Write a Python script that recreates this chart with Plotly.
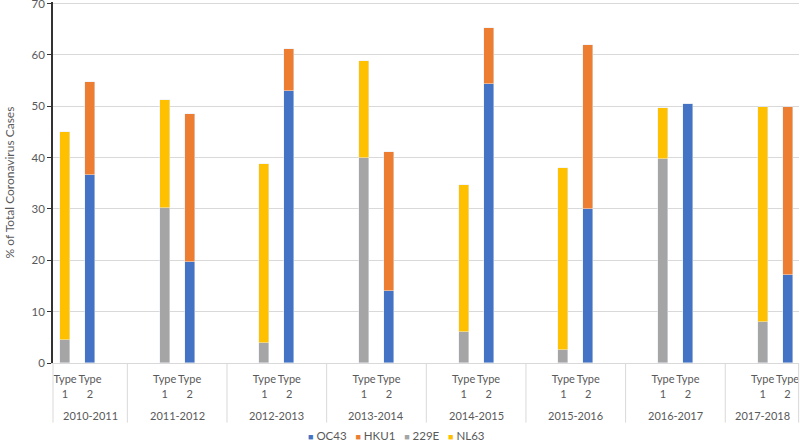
import plotly.graph_objects as go

seasons = ["2010-2011", "2011-2012", "2012-2013", "2013-2014",
           "2014-2015", "2015-2016", "2016-2017", "2017-2018"]
type_labels = ["Type<br>1", "Type<br>2"]

# Type 1 coronaviruses (bar 1 of each season)
e229 = [4.4, 30.1, 3.8, 40.0, 6.0, 2.5, 39.7, 7.9]
nl63 = [40.5, 21.2, 35.0, 18.8, 28.6, 35.5, 9.9, 42.0]
# Type 2 coronaviruses (bar 2 of each season)
oc43 = [36.6, 19.6, 53.0, 14.1, 54.4, 29.9, 50.4, 17.2]
hku1 = [18.2, 28.8, 8.1, 26.9, 10.9, 32.0, 0.0, 32.7]

names = ["OC43", "HKU1", "229E", "NL63"]
colors = ["#4472C4", "#ED7D31", "#A5A5A5", "#FFC000"]

off = 0.125
x1 = [i - off for i in range(len(seasons))]
x2 = [i + off for i in range(len(seasons))]
xr = [-0.246, 7.24]

fig = go.Figure()
for xs, ys, nm, c in [(x2, oc43, names[0], colors[0]), (x2, hku1, names[1], colors[1]),
                      (x1, e229, names[2], colors[2]), (x1, nl63, names[3], colors[3])]:
    fig.add_trace(go.Bar(x=xs, y=ys, name=nm, marker_color=c, width=0.1, showlegend=False))

# season labels (centred in the visible part of each group) and separators
for i, s in enumerate(seasons):
    lo, hi = max(i - 0.5, xr[0]), min(i + 0.5, xr[1])
    fig.add_annotation(x=(lo + hi) / 2, y=-0.145, xref="x", yref="paper", yanchor="middle", text=s,
                       showarrow=False, font=dict(size=11, color="#595959"))
for xv in [i + 0.5 for i in range(len(seasons) - 1)]:
    fig.add_shape(type="line", xref="x", yref="paper", x0=xv, x1=xv, y0=0, y1=-0.165,
                  line=dict(color="#d9d9d9", width=1))
for xp in [0, 0.9995]:
    fig.add_shape(type="line", xref="paper", yref="paper", x0=xp, x1=xp, y0=0, y1=-0.165,
                  line=dict(color="#d9d9d9", width=1))

# legend drawn as one line of text
legend_txt = "&nbsp;&nbsp;&nbsp;".join(
    f"<span style='color:{c}; font-size:9px'>■</span>&nbsp;{n}" for n, c in zip(names, colors))
fig.add_annotation(x=0.46, y=-0.2, xref="paper", yref="paper", yanchor="middle",
                   text=legend_txt, showarrow=False, font=dict(size=11.5, color="#595959"))

fig.update_layout(
    barmode="stack",
    width=800, height=443,
    margin=dict(l=53, r=1, t=2, b=80),
    plot_bgcolor="white", paper_bgcolor="white",
    font=dict(family="Lato", size=11, color="#595959"),
    bargap=0,
    xaxis=dict(range=xr, automargin=False,
               tickvals=x1 + x2,
               ticktext=[type_labels[0]] * len(x1) + [type_labels[1]] * len(x2),
               showgrid=False, zeroline=False, showline=True, linecolor="#d9d9d9",
               ticks="", ticklabelstandoff=6, tickfont=dict(size=11, color="#595959")),
    yaxis=dict(range=[0, 70.3], dtick=10, automargin=False, showgrid=True, gridcolor="#d9d9d9",
               zeroline=False, showline=True, linecolor="#333333", linewidth=1.5,
               ticks="outside", ticklen=4, tickcolor="#333333", ticklabeloverflow="allow",
               title=dict(text="% of Total Coronavirus Cases", font=dict(size=12, color="#595959"),
                          standoff=14),
               tickfont=dict(size=11.5, color="#595959")),
)

fig.write_html("out.html", config={"displayModeBar": False},
               post_script="document.body.style.margin='0';")
